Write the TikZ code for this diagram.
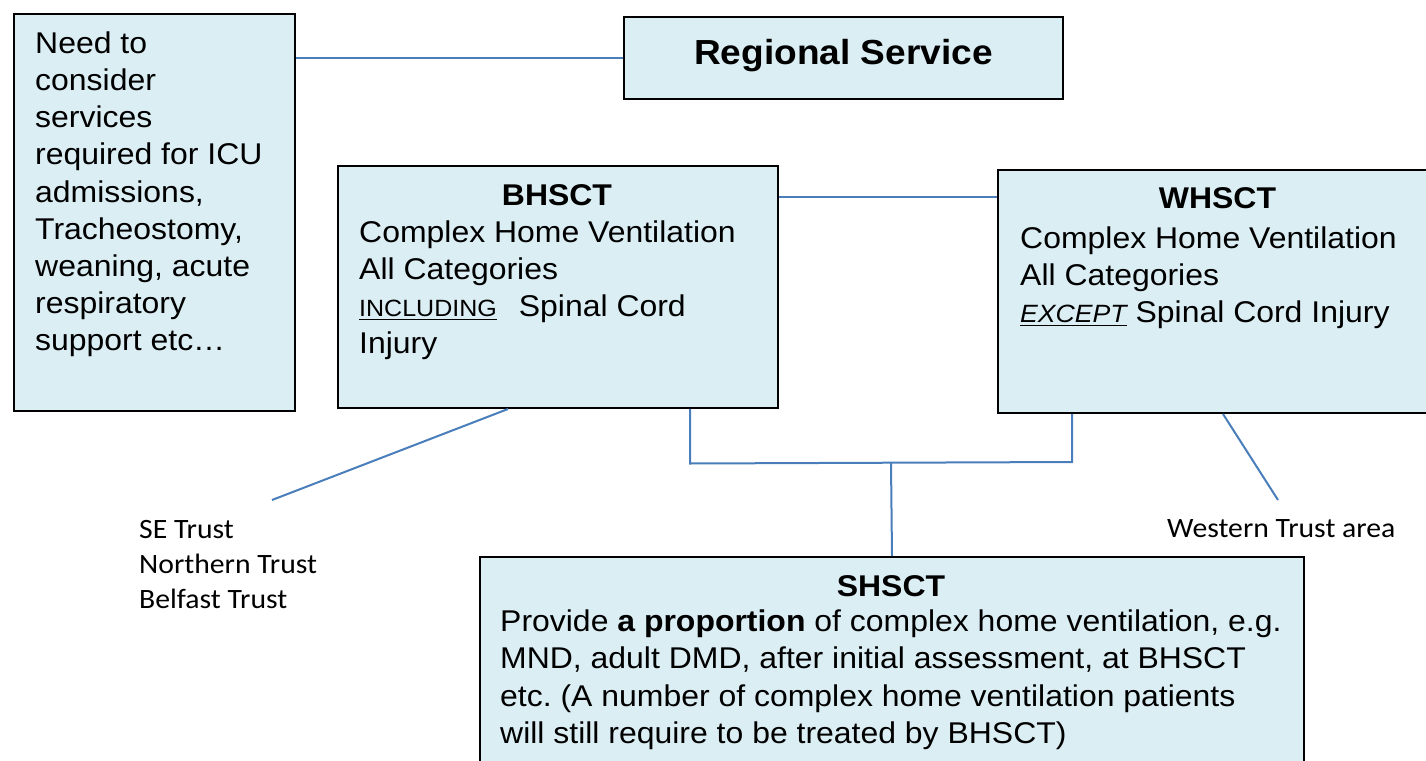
\documentclass[tikz,border=0pt]{standalone}
\usepackage{fontspec}
\setmainfont{Liberation Sans}[FakeStretch=1.065]
\newfontfamily\calib{Carlito}[FakeStretch=1.06]
\definecolor{boxfill}{HTML}{DBEEF4}
\definecolor{lineblue}{HTML}{4A7EBB}
\frenchspacing
\newcommand\stk[1]{\vtop{\halign{##\hfil\cr#1\crcr}}}
\newcommand\ulbox[1]{\setbox0\hbox{#1}\rlap{\rule[-3.5pt]{\wd0}{1.6pt}}\box0}
\tikzset{
  box/.style={draw=black, line width=2pt, fill=boxfill, rectangle, anchor=north west, inner sep=0pt},
  txt/.style={inner sep=0pt, anchor=base west, font=\fontsize{30}{37.2}\selectfont},
  shtxt/.style={inner sep=0pt, anchor=base west, font=\fontsize{30}{37.2}\selectfont},
  ttl/.style={inner sep=0pt, anchor=base, font=\fontsize{30}{37.2}\selectfont\bfseries},
  lab/.style={inner sep=0pt, anchor=base west, font=\calib\fontsize{28}{35}\selectfont},
  conn/.style={draw=lineblue, line width=2pt},
}
\begin{document}
\begin{tikzpicture}[x=1pt,y=-1pt]
\useasboundingbox (0,0) rectangle (1426,760);
\clip (0,0) rectangle (1426,760);
% boxes
\node[box, minimum width=281pt, minimum height=397pt] (need) at (13,13) {};
\node[box, minimum width=439pt, minimum height=82pt] (reg) at (623,16) {};
\node[box, minimum width=440pt, minimum height=242pt] (bh) at (337,165) {};
\node[box, minimum width=450pt, minimum height=243pt] (wh) at (997,169) {};
\node[box, minimum width=824pt, minimum height=260pt] (sh) at (479,556) {};
% texts
\node[txt] (needt) at (35,53.3) {\stk{Need to\cr consider\cr services\cr required for ICU\cr admissions,\cr Tracheostomy,\cr weaning, acute\cr respiratory\cr support etc…}};
\node[inner sep=0pt, anchor=base, font=\fontsize{34.8}{40}\selectfont\bfseries] (regt) at (843.5,64) {Regional Service};
\node[ttl] (bht) at (557,205) {BHSCT};
\node[txt] (bhb) at (359,242.3) {\stk{Complex Home Ventilation\cr All Categories\cr {\fontsize{23.5}{30}\selectfont\ulbox{INCLUDING}}\hspace{22pt}Spinal Cord\cr Injury}};
\node[ttl] (wht) at (1217.5,208.3) {WHSCT};
\node[txt] (whb) at (1020,248.3) {\stk{Complex Home Ventilation\cr All Categories\cr {\fontsize{25}{30}\selectfont\itshape\ulbox{EXCEPT}} Spinal Cord Injury}};
\node[ttl] (sht) at (891,596.7) {SHSCT};
\node[shtxt] (shb) at (500,631.7) {\stk{Provide \textbf{a proportion} of complex home ventilation, e.g.\cr MND, adult DMD, after initial assessment, at BHSCT\cr etc. (A number of complex home ventilation patients\cr will still require to be treated by BHSCT)}};
\node[lab] (trusts) at (139,538.3) {\stk{SE Trust\cr Northern Trust\cr Belfast Trust}};
\node[lab] (west) at (1167,537.7) {Western Trust area};
% connectors
\coordinate (y1) at (0,196.7);
\coordinate (jl) at (690,463.5);
\coordinate (jr) at (1072,462);
\coordinate (jm) at (891,463);
\coordinate (se) at (272,500);
\coordinate (we) at (1278,500);
\draw[conn] (reg.west) -- (reg.west -| need.east);
\draw[conn] (bh.east |- y1) -- (wh.west |- y1);
\draw[conn] (bh.south -| jl) -- (jl) -- (jr) -- (wh.south -| jr);
\draw[conn] (jm) -- (sh.north);
\draw[conn] ([xshift=-50pt]bh.south) -- (se);
\draw[conn] (wh.south) -- (we);
\end{tikzpicture}
\end{document}
